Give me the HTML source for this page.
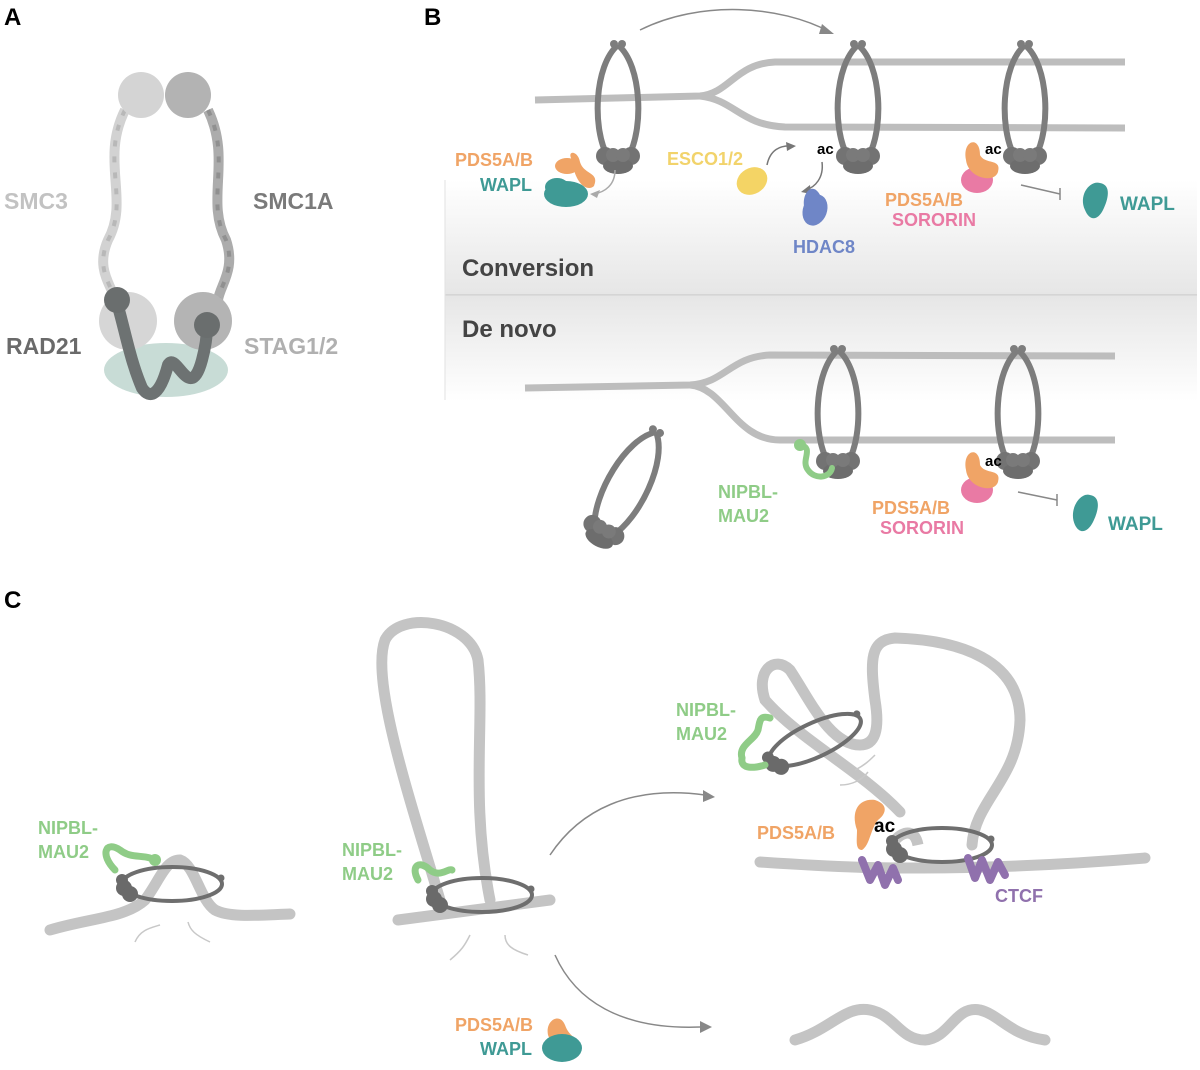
<!DOCTYPE html>
<html><head><meta charset="utf-8"><style>
html,body{margin:0;padding:0;background:#fff;}
svg{display:block;font-family:"Liberation Sans",Arial,sans-serif;font-weight:bold;}
</style></head><body>
<svg width="1200" height="1070" viewBox="0 0 1200 1070" xmlns="http://www.w3.org/2000/svg">
<defs>
<linearGradient id="bandTop" x1="0" y1="0" x2="0" y2="1">
<stop offset="0" stop-color="#fff"/><stop offset="1" stop-color="#e6e6e6"/></linearGradient>
<linearGradient id="bandBot" x1="0" y1="0" x2="0" y2="1">
<stop offset="0" stop-color="#e6e6e6"/><stop offset="1" stop-color="#fff"/></linearGradient>
<g id="ring">
<path d="M0,0 C-24,20 -26,85 -10,112 M0,0 C24,20 26,85 10,112" fill="none" stroke="#7d7d7d" stroke-width="6"/>
<circle cx="-4" cy="-1" r="4" fill="#7d7d7d"/><circle cx="4" cy="-1" r="4" fill="#7d7d7d"/>
<circle cx="-13" cy="111" r="9" fill="#737373"/><circle cx="13" cy="111" r="9" fill="#737373"/>
<ellipse cx="0" cy="121" rx="15" ry="8" fill="#6d6d6d"/>
<circle cx="-5" cy="110" r="7" fill="#7a7a7a"/><circle cx="5" cy="110" r="7" fill="#7a7a7a"/>
</g>
<g id="hring">
<ellipse cx="0" cy="0" rx="50" ry="17" fill="none" stroke="#6e6e6e" stroke-width="4"/>
<circle cx="-48" cy="4" r="8" fill="#6a6a6a"/><circle cx="-42" cy="10" r="8" fill="#6a6a6a"/><circle cx="-50" cy="-4" r="6" fill="#6a6a6a"/>
<circle cx="49" cy="-6" r="3.5" fill="#6e6e6e"/>
</g>
</defs>

<!-- Panel A -->
<text x="4" y="25" font-size="24" fill="#000">A</text>
<path d="M125,110 C100,160 130,200 108,240 C95,270 112,285 115,300" fill="none" stroke="#d2d2d2" stroke-width="10"/>
<path d="M125,110 C100,160 130,200 108,240 C95,270 112,285 115,300" fill="none" stroke="#b8b8b8" stroke-width="4" stroke-dasharray="6 10"/>
<path d="M208,110 C232,160 205,200 226,240 C236,270 220,285 218,300" fill="none" stroke="#acacac" stroke-width="10"/>
<path d="M208,110 C232,160 205,200 226,240 C236,270 220,285 218,300" fill="none" stroke="#909090" stroke-width="4" stroke-dasharray="6 10"/>
<circle cx="141" cy="95" r="23" fill="#d4d4d4"/>
<circle cx="188" cy="95" r="23" fill="#b3b3b3"/>
<ellipse cx="166" cy="370" rx="62" ry="27" fill="#c8dcd6"/>
<circle cx="128" cy="321" r="29" fill="#d6d6d6"/>
<circle cx="203" cy="321" r="29" fill="#b4b4b4"/>
<path d="M117,303 C125,330 130,360 142,388 C150,400 160,395 168,365 C176,350 190,405 202,360 C206,345 207,335 207,327" fill="none" stroke="#6d7272" stroke-width="12" stroke-linecap="round"/>
<circle cx="117" cy="300" r="13" fill="#6a6e6e"/>
<circle cx="207" cy="325" r="13" fill="#6a6e6e"/>
<text x="4" y="209" font-size="23" fill="#c2c2c2">SMC3</text>
<text x="253" y="209" font-size="23" fill="#7a7a7a">SMC1A</text>
<text x="6" y="354" font-size="23" fill="#6a6a6a">RAD21</text>
<text x="244" y="354" font-size="23" fill="#b0b0b0">STAG1/2</text>

<!-- Panel B -->
<text x="424" y="25" font-size="24" fill="#000">B</text>
<rect x="445" y="180" width="752" height="115" fill="url(#bandTop)"/>
<rect x="445" y="296" width="752" height="105" fill="url(#bandBot)"/>
<line x1="445" y1="295" x2="1197" y2="295" stroke="#cfcfcf" stroke-width="1.5"/>
<line x1="445" y1="180" x2="445" y2="400" stroke="#e2e2e2" stroke-width="1"/>
<text x="462" y="276" font-size="24" fill="#444">Conversion</text>
<text x="462" y="337" font-size="24" fill="#444">De novo</text>

<path d="M640,30 C700,0 780,5 830,32" fill="none" stroke="#888" stroke-width="1.5"/>
<path d="M822,24 L834,34 L819,34 Z" fill="#888"/>

<path d="M535,100 L700,96 C730,93 735,64 775,62 L1125,62" fill="none" stroke="#bdbdbd" stroke-width="7"/>
<path d="M700,96 C735,100 740,125 785,127 L1125,128" fill="none" stroke="#bdbdbd" stroke-width="7"/>
<use href="#ring" x="618" y="45"/>
<use href="#ring" x="858" y="45"/>
<use href="#ring" x="1025" y="45"/>

<path d="M572,160 C566,150 578,150 580,162 C584,175 600,172 594,186 C588,192 575,185 572,160Z" fill="#f0a466"/>
<ellipse cx="567" cy="166" rx="12" ry="8" fill="#f0a466"/>
<ellipse cx="566" cy="194" rx="22" ry="13" fill="#3f9a95"/>
<ellipse cx="557" cy="187" rx="12" ry="9" fill="#3f9a95"/>
<path d="M615,170 C615,185 605,192 594,194" fill="none" stroke="#aaa" stroke-width="1.5"/>
<path d="M590,194 L600,190 L597,198Z" fill="#aaa"/>
<text x="455" y="166" font-size="18" fill="#f0a466">PDS5A/B</text>
<text x="480" y="191" font-size="18" fill="#3f9a95">WAPL</text>

<text x="667" y="165" font-size="18" fill="#f2d36b">ESCO1/2</text>
<ellipse cx="752" cy="181" rx="16" ry="13" transform="rotate(-30 752 181)" fill="#f4d465"/>
<path d="M767,165 C770,150 780,145 792,146" fill="none" stroke="#777" stroke-width="1.5"/>
<path d="M796,146 L786,142 L787,151Z" fill="#777"/>
<text x="817" y="154" font-size="15" fill="#000">ac</text>
<path d="M822,162 C824,178 815,187 806,190" fill="none" stroke="#777" stroke-width="1.5"/>
<path d="M801,192 L810,185 L811,194Z" fill="#777"/>
<path d="M805,210 C800,195 812,180 820,195 C825,210 810,232 805,210Z" fill="#6f86c7"/>
<ellipse cx="815" cy="210" rx="12" ry="16" transform="rotate(20 815 210)" fill="#6f86c7"/>
<text x="793" y="253" font-size="18" fill="#6f86c7">HDAC8</text>

<ellipse cx="977" cy="180" rx="16" ry="13" fill="#e97aa4"/>
<path d="M966,160 C962,140 980,135 980,155 C985,165 1002,158 998,172 C994,184 968,178 966,160Z" fill="#f0a466"/>
<text x="985" y="154" font-size="15" fill="#000">ac</text>
<text x="885" y="206" font-size="18" fill="#f0a466">PDS5A/B</text>
<text x="892" y="226" font-size="18" fill="#e97aa4">SORORIN</text>
<line x1="1021" y1="185" x2="1060" y2="194" stroke="#888" stroke-width="1.5"/>
<line x1="1060" y1="188" x2="1060" y2="200" stroke="#888" stroke-width="1.5"/>
<path d="M1085,210 C1078,195 1090,180 1100,183 C1112,185 1108,200 1103,210 C1098,220 1090,222 1085,210Z" fill="#3f9a95"/>
<text x="1120" y="210" font-size="19" fill="#3f9a95">WAPL</text>

<path d="M525,388 L690,385 C725,383 730,357 770,355 L1115,356" fill="none" stroke="#bdbdbd" stroke-width="7"/>
<path d="M690,385 C725,388 735,440 780,440 L1115,440" fill="none" stroke="#bdbdbd" stroke-width="7"/>
<use href="#ring" x="838" y="350"/>
<use href="#ring" x="1018" y="350"/>
<g transform="translate(656,432) rotate(28)"><use href="#ring" x="0" y="0"/></g>
<path d="M800,445 C815,448 800,460 808,470 C815,480 830,478 832,468" fill="none" stroke="#8fcc87" stroke-width="6" stroke-linecap="round"/>
<circle cx="800" cy="445" r="6" fill="#8fcc87"/>
<text x="718" y="498" font-size="18" fill="#8fcc87">NIPBL-</text>
<text x="718" y="522" font-size="18" fill="#8fcc87">MAU2</text>
<ellipse cx="977" cy="490" rx="16" ry="13" fill="#e97aa4"/>
<path d="M966,470 C962,450 980,445 980,465 C985,475 1002,468 998,482 C994,494 968,488 966,470Z" fill="#f0a466"/>
<text x="985" y="466" font-size="15" fill="#000">ac</text>
<text x="872" y="514" font-size="18" fill="#f0a466">PDS5A/B</text>
<text x="880" y="534" font-size="18" fill="#e97aa4">SORORIN</text>
<line x1="1018" y1="492" x2="1057" y2="500" stroke="#888" stroke-width="1.5"/>
<line x1="1057" y1="494" x2="1057" y2="506" stroke="#888" stroke-width="1.5"/>
<path d="M1075,525 C1068,510 1080,492 1090,495 C1102,497 1098,512 1093,522 C1088,532 1080,535 1075,525Z" fill="#3f9a95"/>
<text x="1108" y="530" font-size="19" fill="#3f9a95">WAPL</text>

<!-- Panel C -->
<text x="4" y="608" font-size="24" fill="#000">C</text>
<path d="M50,930 C90,918 125,918 145,900 C160,880 165,860 180,860 C195,865 200,900 215,910 C230,918 260,915 290,914" fill="none" stroke="#c4c4c4" stroke-width="11" stroke-linecap="round"/>
<use href="#hring" x="172" y="884"/>
<path d="M115,870 C100,855 105,840 120,850 C130,858 140,855 150,858" fill="none" stroke="#8fcc87" stroke-width="7" stroke-linecap="round"/>
<circle cx="155" cy="860" r="6" fill="#8fcc87"/>
<text x="38" y="834" font-size="18" fill="#8fcc87">NIPBL-</text>
<text x="38" y="858" font-size="18" fill="#8fcc87">MAU2</text>
<path d="M135,942 C140,930 150,928 160,925" fill="none" stroke="#c8c8c8" stroke-width="1.5"/>
<path d="M210,942 C195,935 190,930 188,922" fill="none" stroke="#c8c8c8" stroke-width="1.5"/>

<path d="M398,920 L550,900" fill="none" stroke="#c4c4c4" stroke-width="11" stroke-linecap="round"/>
<path d="M440,900 C410,800 370,680 385,640 C400,610 470,620 478,660 C485,720 470,800 490,900" fill="none" stroke="#c4c4c4" stroke-width="11" stroke-linecap="round"/>
<use href="#hring" x="482" y="895"/>
<path d="M418,880 C410,865 420,860 430,870 C440,878 448,868 452,870" fill="none" stroke="#8fcc87" stroke-width="7" stroke-linecap="round"/>
<text x="342" y="856" font-size="18" fill="#8fcc87">NIPBL-</text>
<text x="342" y="880" font-size="18" fill="#8fcc87">MAU2</text>
<path d="M450,960 C462,950 465,945 470,935" fill="none" stroke="#c8c8c8" stroke-width="1.5"/>
<path d="M528,955 C512,950 505,945 505,935" fill="none" stroke="#c8c8c8" stroke-width="1.5"/>
<path d="M550,855 C580,810 630,785 705,795" fill="none" stroke="#888" stroke-width="1.5"/>
<path d="M715,797 L703,790 L703,802Z" fill="#888"/>
<path d="M555,955 C575,1000 620,1030 700,1027" fill="none" stroke="#888" stroke-width="1.5"/>
<path d="M712,1027 L700,1021 L700,1033Z" fill="#888"/>
<path d="M548,1035 C545,1020 560,1012 565,1025 C570,1040 585,1040 580,1050 C575,1060 555,1055 548,1035Z" fill="#f0a466"/>
<ellipse cx="562" cy="1048" rx="20" ry="14" fill="#3f9a95"/>
<text x="455" y="1031" font-size="18" fill="#f0a466">PDS5A/B</text>
<text x="480" y="1055" font-size="18" fill="#3f9a95">WAPL</text>
<path d="M795,1040 C830,1030 845,1005 870,1010 C895,1015 900,1040 925,1040 C950,1038 955,1005 980,1010 C1000,1015 1010,1035 1045,1040" fill="none" stroke="#c4c4c4" stroke-width="11" stroke-linecap="round"/>

<path d="M760,862 C850,868 880,868 920,868 C980,868 1060,865 1145,858" fill="none" stroke="#c4c4c4" stroke-width="11" stroke-linecap="round"/>
<path d="M900,812 C860,770 800,740 765,700 C755,670 775,655 790,670 C810,700 830,745 860,745 C875,745 880,730 875,700 C870,660 870,640 895,638 C960,640 1020,660 1020,720 C1018,780 975,800 972,845" fill="none" stroke="#c4c4c4" stroke-width="11" stroke-linecap="round"/>
<path d="M895,840 C905,830 915,830 918,845" fill="none" stroke="#c4c4c4" stroke-width="11"/>
<g transform="translate(815,740) rotate(-25)"><use href="#hring" x="0" y="0"/></g>
<use href="#hring" x="942" y="845"/>
<path d="M742,758 C738,745 755,740 758,730 C760,720 760,715 770,718" fill="none" stroke="#8fcc87" stroke-width="7" stroke-linecap="round"/>
<path d="M742,758 C740,770 755,768 765,765" fill="none" stroke="#8fcc87" stroke-width="7" stroke-linecap="round"/>
<text x="676" y="716" font-size="18" fill="#8fcc87">NIPBL-</text>
<text x="676" y="740" font-size="18" fill="#8fcc87">MAU2</text>
<path d="M855,770 C865,765 870,760 875,755" fill="none" stroke="#c8c8c8" stroke-width="1.5"/>
<path d="M840,785 C852,785 862,780 868,772" fill="none" stroke="#c8c8c8" stroke-width="1.5"/>
<path d="M857,830 C850,810 860,798 875,800 C890,805 885,815 878,820 C870,830 870,845 862,850 C855,850 857,840 857,830Z" fill="#f0a466"/>
<text x="874" y="832" font-size="19" fill="#000">ac</text>
<text x="757" y="839" font-size="18" fill="#f0a466">PDS5A/B</text>
<path d="M862,860 L870,880 L878,865 L885,885 L893,868 L898,880" fill="none" stroke="#9071ad" stroke-width="8" stroke-linecap="round" stroke-linejoin="round"/>
<path d="M968,858 L975,878 L982,860 L990,880 L998,862 L1005,875" fill="none" stroke="#9071ad" stroke-width="8" stroke-linecap="round" stroke-linejoin="round"/>
<text x="995" y="902" font-size="18" fill="#9071ad">CTCF</text>
</svg>
</body></html>
